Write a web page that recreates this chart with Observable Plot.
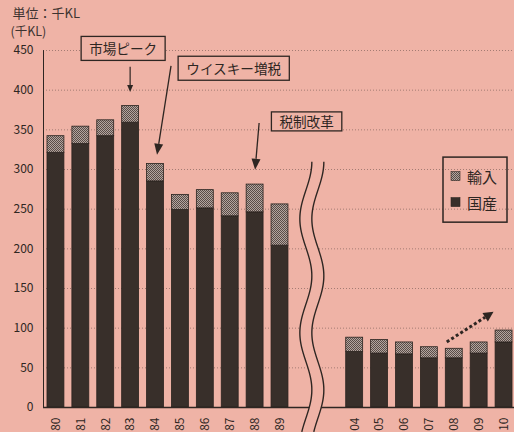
<!DOCTYPE html>
<html><head><meta charset="utf-8">
<script src="https://cdn.jsdelivr.net/npm/d3@7"></script>
<script src="https://cdn.jsdelivr.net/npm/@observablehq/plot@0.6"></script>
<style>
html,body{margin:0;padding:0;background:#efb3a6;}
body{width:514px;height:432px;overflow:hidden;}
svg{display:block}
</style></head><body><div id="chart"></div>
<script>
// ---- data ----
const years = ["80","81","82","83","84","85","86","87","88","89","04","05","06","07","08","09","10"];
const domestic = [321,332,342,359,285,249,251,241,246,204,70,68,67,62,62,68,82];
const imports  = [21,22,20,21,22,19,23,29,35,52,18,17,15,14,12,14,15];
const seriesNames = ["国産","輸入"];
const breakSlots = ["_gap1","_gap2"];
const yTicks = [0,50,100,150,200,250,300,350,400,450];
const unitLabels = ["単位：千KL","(千KL)"];
const annLabels = ["市場ピーク","ウイスキー増税","税制改革"];
const annYear = ["83","87","88"];
const annValue = [452,427,360];
const arrowFromYear = ["83","84","88"];
const arrowFromValue = [429,430,358];
const arrowToYear = ["83","84","88"];
const arrowToValue = [397,318,299];
const trendFrom = ["08",82];
const trendTo = ["10",120];
const legendLabels = ["輸入","国産"];

// ---- styling ----
const BG = "#efb3a6";
const INK = "#2e2622";
const DARK = "#382f2a";

const slots = [...years.slice(0,10), ...breakSlots, ...years.slice(10)];
const rows = years.flatMap((yr, i) => [
  {year: yr, type: seriesNames[0], value: domestic[i]},
  {year: yr, type: seriesNames[1], value: imports[i]}
]);

function drawArrow(g, x1, y1, x2, y2, o = {}) {
  const head = o.head ?? 9, w = o.w ?? 8, sw = o.sw ?? 1.3;
  const a = Math.atan2(y2 - y1, x2 - x1);
  const bx = x2 - head * Math.cos(a), by = y2 - head * Math.sin(a);
  const ln = g.append("line").attr("x1", x1).attr("y1", y1).attr("x2", bx).attr("y2", by)
    .attr("stroke", INK).attr("stroke-width", sw);
  if (o.dash) ln.attr("stroke-dasharray", o.dash);
  const px = -Math.sin(a) * w / 2, py = Math.cos(a) * w / 2;
  g.append("path").attr("d", `M${x2},${y2}L${bx + px},${by + py}L${bx - px},${by - py}Z`).attr("fill", INK);
}

function overlay(index, scales, values, dims) {
  const {x, y} = scales;
  const hb = x.bandwidth ? x.bandwidth() / 2 : 0;
  const cx = (c) => x(c) + hb;
  const g = d3.create("svg:g").attr("font-family", "'Noto Sans CJK JP', sans-serif");

  // wavy break lines
  const mid = (cx(breakSlots[0]) + cx(breakSlots[1])) / 2 - 5;
  const yTop = y(309), yBot = dims.height;
  const ys = d3.range(yTop, yBot + 1, 2);
  const wave = (off) => ys.map(v => [mid + off + 6 * Math.cos(2 * Math.PI * (v - yTop) / 114), v]);
  const L = wave(-6), R = wave(6);
  g.append("path").attr("d", d3.line()([...L, ...R.slice().reverse()]) + "Z").attr("fill", BG);
  g.append("path").attr("d", d3.line().curve(d3.curveBasis)(L)).attr("fill", "none").attr("stroke", INK).attr("stroke-width", 1.4);
  g.append("path").attr("d", d3.line().curve(d3.curveBasis)(R)).attr("fill", "none").attr("stroke", INK).attr("stroke-width", 1.4);

  // annotation boxes
  const annDx = [-7, 4, 52];
  const fs = 13.6;
  annLabels.forEach((lab, i) => {
    const tx = cx(annYear[i]) + annDx[i], ty = y(annValue[i]);
    const w = lab.length * fs + 16, h = i === 2 ? 19 : 24;
    g.append("rect").attr("x", tx - w / 2).attr("y", ty - h / 2).attr("width", w).attr("height", h)
      .attr("fill", BG).attr("stroke", INK).attr("stroke-width", 1.3);
    g.append("text").attr("x", tx).attr("y", ty).attr("text-anchor", "middle").attr("dominant-baseline", "central")
      .attr("font-size", fs).attr("fill", INK).text(lab);
  });
  // annotation arrows
  const fromDx = [0, 16, 4.5], toDx = [0, 2, 0.5];
  arrowFromYear.forEach((c, i) => {
    drawArrow(g, cx(c) + fromDx[i], y(arrowFromValue[i]), cx(arrowToYear[i]) + toDx[i], y(arrowToValue[i]),
      i === 0 ? {head: 7, w: 6, sw: 1.2} : {head: 11, w: 9, sw: 1.3});
  });
  // dotted trend arrow
  drawArrow(g, cx(trendFrom[0]) - 7, y(trendFrom[1]), cx(trendTo[0]) - 10, y(trendTo[1]),
    {head: 10, w: 10, sw: 3, dash: "3,2.4"});

  // legend
  const lx = dims.width - 71, ly = y(315), lw = 64, lh = y(233) - y(315);
  g.append("rect").attr("x", lx).attr("y", ly).attr("width", lw).attr("height", lh)
    .attr("fill", "none").attr("stroke", INK).attr("stroke-width", 1.5);
  const fills = ["url(#stip)", DARK];
  legendLabels.forEach((lab, i) => {
    const yy = ly + 19 + i * 26;
    g.append("rect").attr("x", lx + 8).attr("y", yy - 4.5).attr("width", 9).attr("height", 9)
      .attr("fill", fills[i]).attr("stroke", INK).attr("stroke-width", 0.6);
    g.append("text").attr("x", lx + 24).attr("y", yy).attr("text-anchor", "start").attr("dominant-baseline", "central")
      .attr("font-size", 15).attr("fill", INK).text(lab);
  });
  return g.node();
}

const chart = Plot.plot({
  width: 514, height: 432,
  marginLeft: 43, marginRight: -2, marginTop: 50, marginBottom: 25,
  style: {fontFamily: "'Noto Sans CJK JP', sans-serif", fontSize: "12px", color: INK, background: "transparent"},
  x: {domain: slots, round: false, paddingInner: 0.32, paddingOuter: 0.16, tickSize: 0, tickPadding: 10, tickRotate: -90,
      tickFormat: d => breakSlots.includes(d) ? "" : d, label: null},
  y: {domain: [0, 450], ticks: yTicks, tickSize: 0, tickPadding: 10, line: true, label: null},
  color: {domain: seriesNames, range: [DARK, "url(#stip)"]},
  marks: [
    Plot.gridY(yTicks, {stroke: "#4a3a36", strokeOpacity: 0.45, strokeDasharray: "1,2"}),
    Plot.barY(rows, {x: "year", y: "value", fill: "type", stroke: "#2a231f", strokeWidth: 0.8}),
    Plot.ruleY([0], {stroke: INK, strokeWidth: 1.3}),
    overlay,
    Plot.text([unitLabels[0]], {frameAnchor: "top-left", dx: -31, dy: -42, textAnchor: "start", fontSize: 13, fill: "#3d3330"}),
    Plot.text([unitLabels[1]], {frameAnchor: "top-left", dx: -33, dy: -23, textAnchor: "start", fontSize: 12.5, fill: "#3d3330"})
  ]
});

const ns = "http://www.w3.org/2000/svg";
const defs = document.createElementNS(ns, "defs");
defs.innerHTML = `<pattern id="stip" width="2" height="2" patternUnits="userSpaceOnUse">
  <rect width="2" height="2" fill="#b3a59f"/><rect width="1" height="1" fill="#5a4d48"/><rect x="1" y="1" width="1" height="1" fill="#5a4d48"/></pattern>`;
chart.insertBefore(defs, chart.firstChild);
document.getElementById("chart").append(chart);
</script></body></html>
